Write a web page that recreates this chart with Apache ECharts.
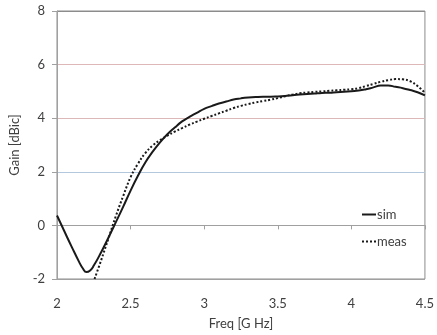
<!DOCTYPE html>
<html>
<head>
<meta charset="utf-8">
<script src="https://cdn.jsdelivr.net/npm/echarts@6/dist/echarts.min.js"></script>
<style>
  html, body { margin: 0; padding: 0; background: #fff; }
  #chartLine { width: 437px; height: 335px; }
</style>
</head>
<body>
<div id="chartLine"></div>
<script>
// frequency (GHz) and gain (dBic)
const simFreq = [2.00, 2.05, 2.10, 2.15, 2.175, 2.20, 2.225, 2.25, 2.30, 2.35, 2.40, 2.45, 2.50, 2.55, 2.60, 2.65, 2.70, 2.75, 2.80, 2.85, 2.90, 2.95,
  3.00, 3.05, 3.10, 3.15, 3.20, 3.25, 3.30, 3.35, 3.40, 3.45, 3.50, 3.55, 3.60, 3.65, 3.70, 3.75, 3.80, 3.85, 3.90, 3.95,
  4.00, 4.05, 4.10, 4.15, 4.20, 4.25, 4.30, 4.35, 4.40, 4.45, 4.50]
const simGain = [0.37, -0.22, -0.8, -1.36, -1.6, -1.74, -1.68, -1.5, -1.0, -0.45, 0.12, 0.7, 1.3, 1.85, 2.35, 2.75, 3.1, 3.4, 3.65, 3.88, 4.05, 4.2,
  4.35, 4.45, 4.55, 4.62, 4.7, 4.74, 4.77, 4.79, 4.8, 4.8, 4.81, 4.83, 4.86, 4.88, 4.9, 4.92, 4.94, 4.95, 4.97, 4.99,
  5.01, 5.03, 5.08, 5.15, 5.22, 5.22, 5.17, 5.12, 5.05, 4.97, 4.85]

const measFreq = [2.255, 2.30, 2.35, 2.40, 2.45, 2.50, 2.55, 2.60, 2.65, 2.70, 2.75, 2.80, 2.85, 2.90, 2.95,
  3.00, 3.05, 3.10, 3.15, 3.20, 3.25, 3.30, 3.35, 3.40, 3.45, 3.50, 3.55, 3.60, 3.65, 3.70, 3.75, 3.80, 3.85, 3.90, 3.95,
  4.00, 4.05, 4.10, 4.15, 4.20, 4.25, 4.30, 4.35, 4.40, 4.45, 4.50]
const measGain = [-2.0, -1.3, -0.48, 0.35, 1.1, 1.8, 2.3, 2.7, 2.98, 3.18, 3.35, 3.5, 3.63, 3.76, 3.87,
  3.98, 4.08, 4.18, 4.28, 4.38, 4.46, 4.53, 4.59, 4.64, 4.69, 4.75, 4.82, 4.88, 4.93, 4.96, 4.98, 5.0, 5.02, 5.04, 5.06,
  5.08, 5.12, 5.2, 5.28, 5.36, 5.42, 5.46, 5.45, 5.38, 5.2, 4.95]

const xTicks = [2, 2.5, 3, 3.5, 4, 4.5]
const yTicks = [-2, 0, 2, 4, 6, 8]

const pairs = (xs, ys) => xs.map((x, i) => [x, ys[i]])

const chartDom = document.getElementById('chartLine')
const myChart = echarts.init(chartDom)

const font = 'Lato, "Open Sans", sans-serif'

let option = {
  animation: false,
  textStyle: { fontFamily: font },
  grid: {
    left: 55,
    right: 7,
    top: 11,
    bottom: 52,
    show: true,
    borderColor: '#8c8c8c',
    borderWidth: 1
  },
  legend: {
    orient: 'vertical',
    left: 356,
    top: 203,
    itemWidth: 14,
    itemHeight: 8,
    itemGap: 14,
    data: ['sim', 'meas'],
    itemStyle: { opacity: 0 },
    textStyle: { fontSize: 13, color: '#404040', fontFamily: font, padding: [0, 0, 0, -4] }
  },
  xAxis: {
    type: 'value',
    min: xTicks[0],
    max: xTicks[xTicks.length - 1],
    interval: 0.5,
    name: 'Freq [G Hz]',
    nameLocation: 'middle',
    nameGap: 38,
    nameTextStyle: { fontSize: 13, color: '#404040' },
    axisLine: { lineStyle: { color: '#a0a0a0' } },
    axisTick: { show: true, length: 4, lineStyle: { color: '#a0a0a0' } },
    axisLabel: { fontSize: 13, color: '#404040', margin: 18 },
    splitLine: { show: false }
  },
  yAxis: {
    type: 'value',
    min: yTicks[0],
    max: yTicks[yTicks.length - 1],
    interval: 2,
    name: 'Gain [dBic]',
    nameLocation: 'middle',
    nameGap: 36,
    nameTextStyle: { fontSize: 13, color: '#404040' },
    axisLine: { show: true, lineStyle: { color: '#a0a0a0' } },
    axisTick: { show: true, length: 5, lineStyle: { color: '#a0a0a0' } },
    axisLabel: { fontSize: 13, color: '#404040', margin: 12 },
    splitLine: {
      show: true,
      lineStyle: {
        color: ['#a0a0a0', '#b3c8dc', '#b3c8dc', '#dcb8b8', '#dcb8b8', '#8c8c8c'],
        width: 1
      }
    }
  },
  series: [
    {
      name: 'sim',
      type: 'line',
      data: pairs(simFreq, simGain),
      smooth: 0.5,
      symbol: 'none',
      color: '#1a1a1a',
      lineStyle: { width: 2, color: '#1a1a1a' }
    },
    {
      name: 'meas',
      type: 'line',
      data: pairs(measFreq, measGain),
      smooth: 0.4,
      symbol: 'none',
      color: '#1a1a1a',
      lineStyle: { width: 2, color: '#1a1a1a', type: [2, 2] }
    }
  ]
}
option && myChart.setOption(option)
</script>
</body>
</html>
